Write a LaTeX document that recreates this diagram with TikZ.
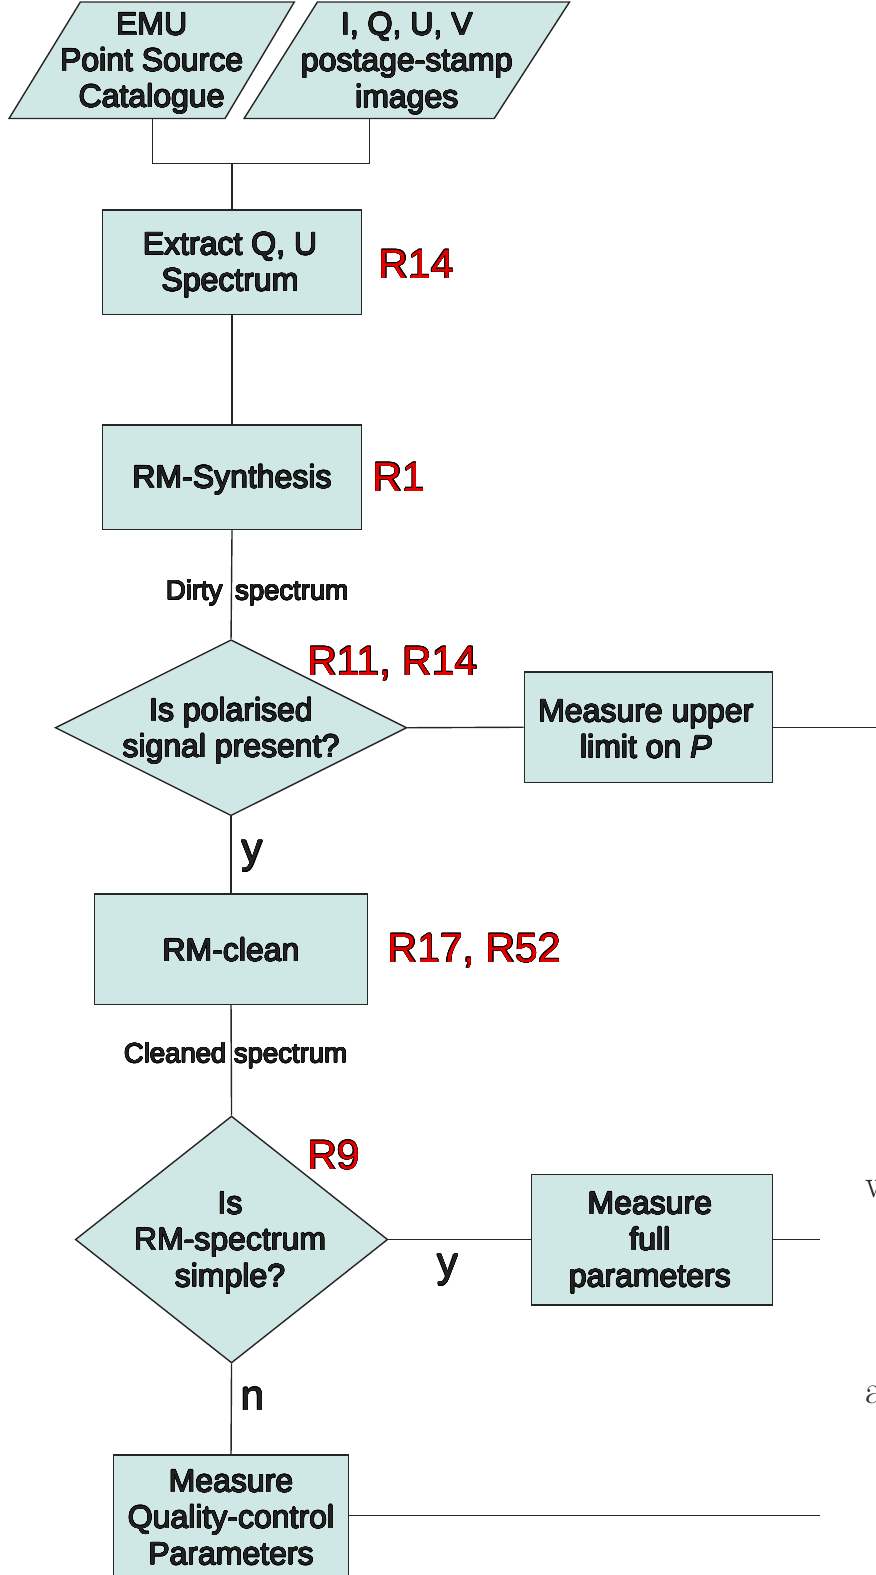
\documentclass[tikz,border=0pt]{standalone}
\usepackage{fontspec}
\usepackage{contour}
\usetikzlibrary{shapes.geometric}
\newfontfamily\arial{Liberation Sans}
\contourlength{0.5pt}
\definecolor{boxfill}{RGB}{207,231,229}
\definecolor{reqred}{RGB}{230,0,0}
\definecolor{ink}{RGB}{34,34,34}
% outlined text, one line at a time
\newcommand\outl[1]{\contour{black}{#1}}
\tikzset{
  wire/.style={draw=black!85, line width=1.4pt},
  proc/.style={draw=black!85, line width=1.4pt, fill=boxfill, rectangle, inner sep=0pt},
  io/.style={draw=black!85, line width=1.4pt, fill=boxfill},
  decide/.style={draw=black!85, line width=1.4pt, fill=boxfill, diamond, inner sep=0pt},
  txt/.style={align=center, text=ink, inner sep=0pt, font=\arial\fontsize{32}{36.2}\selectfont},
  small/.style={text=ink, inner sep=0pt, font=\arial\fontsize{27.5}{32}\selectfont},
  answer/.style={text=ink, inner sep=0pt, anchor=base, font=\arial\fontsize{42}{48}\selectfont},
  req/.style={text=reqred, inner sep=0pt, anchor=base west, font=\arial\fontsize{41}{48}\selectfont},
  edge/.style={text=black!80, inner sep=0pt, anchor=base west, font=\fontsize{40}{48}\selectfont},
}
\begin{document}
\begin{tikzpicture}[x=1.0045pt,y=-1.0045pt]
\clip (0,0) rectangle (872.1,1568);
\useasboundingbox (0,0) rectangle (872.1,1568);

% input data
\draw[io] (80,2) -- (293,2) -- (224,118) -- (9,118) -- cycle;
\draw[io] (316,2) -- (567,2) -- (492,118) -- (243,118) -- cycle;
\node[txt] (emu) at (151,63.5) {\outl{EMU}\\\outl{Point Source}\\\outl{Catalogue}};
\node[txt] (stamps) at (405,63.5) {\outl{I, Q, U, V}\\\outl{postage-stamp}\\\outl{images}};
\coordinate (emuout) at (152,118);
\coordinate (stampout) at (368,118);
\coordinate (join) at (231,163);

% processing chain
\node[proc, minimum width=259pt, minimum height=104.5pt] (extract) at (231,261) {};
\node[txt] (extractlbl) at (229,264) {\outl{Extract Q, U}\\\outl{Spectrum}};
\node[proc, minimum width=259pt, minimum height=104.5pt] (rmsyn) at (231,475) {};
\node[txt] (rmsynlbl) at (231,478) {\outl{RM-Synthesis}};
\node[decide, minimum width=351.5pt, minimum height=176pt] (polq) at (230,724.5) {};
\node[txt] (polqlbl) at (230,728) {\outl{Is polarised}\\\outl{signal present?}};
\node[proc, minimum width=248pt, minimum height=110.5pt] (upper) at (645.5,724) {};
\node[txt] (upperlbl) at (643,726) {\outl{Measure upper}\\\outl{limit on \textit{P}}};
\node[proc, minimum width=273pt, minimum height=110.5pt] (clean) at (230,945) {};
\node[txt] (cleanlbl) at (230,946) {\outl{RM-clean}};
\node[decide, minimum width=312.4pt, minimum height=247pt] (simpq) at (230.5,1234) {};
\node[txt] (simpqlbl) at (229,1237.5) {\outl{Is}\\\outl{RM-spectrum}\\\outl{simple?}};
\node[proc, minimum width=241pt, minimum height=130.6pt] (full) at (649,1234) {};
\node[txt] (fulllbl) at (647,1237.5) {\outl{Measure}\\\outl{full}\\\outl{parameters}};
\node[proc, minimum width=235pt, minimum height=150pt] (qc) at (230,1523) {};
\node[txt] (qclbl) at (230,1511) {\outl{Measure}\\\outl{Quality-control}\\\outl{Parameters}};

% free ends on the right
\coordinate (upperout) at (872.1,724);
\coordinate (fullout) at (816,1234);
\coordinate (qcout) at (816,1509);

% connectors
\draw[wire] (emuout) |- (join) -| (stampout);
\draw[wire] (join) -- (extract.north);
\draw[wire] (extract.south) -- (rmsyn.north);
\draw[wire] (rmsyn.south) -- (polq.north);
\draw[wire] (polq.east) -- (upper.west);
\draw[wire] (upper.east) -- (upperout);
\draw[wire] (polq.south) -- (clean.north);
\draw[wire] (clean.south) -- (simpq.north);
\draw[wire] (simpq.east) -- (full.west);
\draw[wire] (full.east) -- (fullout);
\draw[wire] (simpq.south) -- (qc.north);
\draw[wire] (qc.east |- 0,1509) -- (qcout);

% connector labels
\node[small, anchor=base] (dirty) at (256,597) {\outl{Dirty}\hspace{5pt} \outl{spectrum}};
\node[small] (cleaned) at (234.5,1051) {\outl{Cleaned spectrum}};
\node[answer] (yes1) at (251,859) {\outl{y}};
\node[answer] (yes2) at (446,1271) {\outl{y}};
\node[answer] (no2) at (252,1404) {\outl{n}};

% requirement references
\node[req] (r14a) at (377,277) {\outl{R14}};
\node[req] (r1) at (371,489) {\outl{R1}};
\node[req] (r11) at (306,672) {\outl{R11, R14}};
\node[req] (r17) at (386,958) {\outl{R17, R52}};
\node[req] (r9) at (306,1164) {\outl{R9}};

% neighbouring text at the right margin
\node[edge] (wglyph) at (861,1192) {w};
\node[edge] (aglyph) at (861,1397) {a};
\end{tikzpicture}
\end{document}
